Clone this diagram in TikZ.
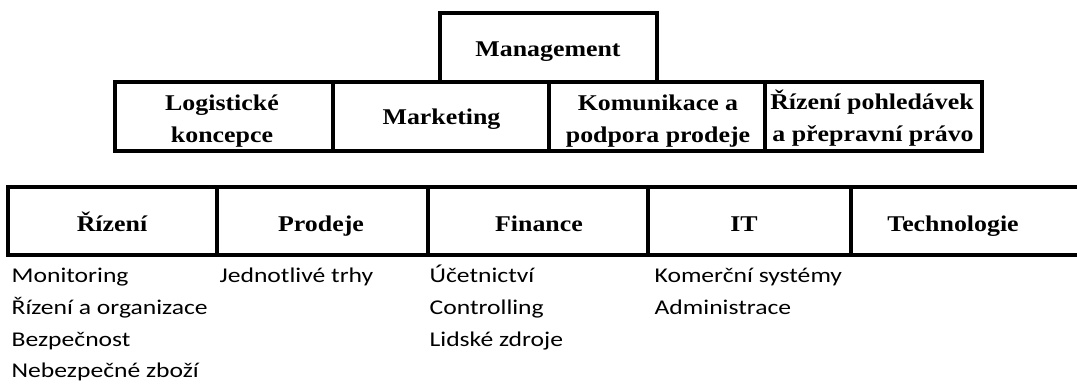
\documentclass[tikz,border=0pt]{standalone}
\usepackage{fontspec}
\setmainfont{Liberation Serif}
\newfontfamily\headfont[FakeStretch=1.15]{Liberation Serif}
\newfontfamily\listfont[FakeStretch=1.22]{Carlito}
\usetikzlibrary{positioning}

\tikzset{
	cell/.style={draw, inner sep=0pt},
	head/.style={font=\headfont\bfseries\fontsize{22.5}{32}\selectfont, anchor=base, inner sep=0pt},
	item/.style={font=\listfont\fontsize{21}{31.7}\selectfont, anchor=base west, inner sep=0pt},
}

\begin{document}
\begin{tikzpicture}[x=1pt,y=-1pt,line width=3.3pt]
		\useasboundingbox (0,0) rectangle (1077,387);
		% vedeni
		\node[cell, minimum width=217pt, minimum height=69pt] (mgmt) at (548.5,47.5) {};
		\node[head] (mgmtT) at (548,57) {Management};
		% druha rada
		\node[cell, minimum width=218pt, minimum height=69pt] (log) at (224,116.5) {};
		\node[cell, minimum width=216pt, minimum height=69pt] (mkt) at (441,116.5) {};
		\node[cell, minimum width=216pt, minimum height=69pt] (kom) at (657,116.5) {};
		\node[cell, minimum width=217pt, minimum height=69pt] (poh) at (873.5,116.5) {};
		\node[head] (logT) at (222,111) {Logistické};
		\node[head] (logB) at (222,143) {koncepce};
		\node[head] (mktT) at (441.5,125) {Marketing};
		\node[head] (komT) at (658,111) {Komunikace a};
		\node[head] (komB) at (658,143) {podpora prodeje};
		\node[head] (pohT) at (872,110) {Řízení pohledávek};
		\node[head] (pohB) at (873,142) {a přepravní právo};
		% treti rada
		\coordinate (A) at (8,187);
		\coordinate (B) at (1077,187);
		\coordinate (C) at (8,255);
		\coordinate (D) at (1077,255);
		\draw (B)--(A)--(C)--(D);
		\draw (217,187)--(217,255);
		\draw (428,187)--(428,255);
		\draw (648,187)--(648,255);
		\draw (851,187)--(851,255);
		\node[head] (riz) at (112,232) {Řízení};
		\node[head] (prod) at (321,232) {Prodeje};
		\node[head] (fin) at (539,232) {Finance};
		\node[head] (it) at (744,232) {IT};
		\node[head] (tech) at (953,232) {Technologie};
		% polozky
		\node[item] (riz1) at (10,283) {Monitoring};
		\node[item] (riz2) at (10,315) {Řízení a organizace};
		\node[item] (riz3) at (10,347) {Bezpečnost};
		\node[item] (riz4) at (10,378) {Nebezpečné zboží};
		\node[item] (prod1) at (218,283) {Jednotlivé trhy};
		\node[item] (fin1) at (428,283) {Účetnictví};
		\node[item] (fin2) at (428,315) {Controlling};
		\node[item] (fin3) at (428,347) {Lidské zdroje};
		\node[item] (it1) at (653,283) {Komerční systémy};
		\node[item] (it2) at (653,315) {Administrace};
	\end{tikzpicture}
\end{document}
